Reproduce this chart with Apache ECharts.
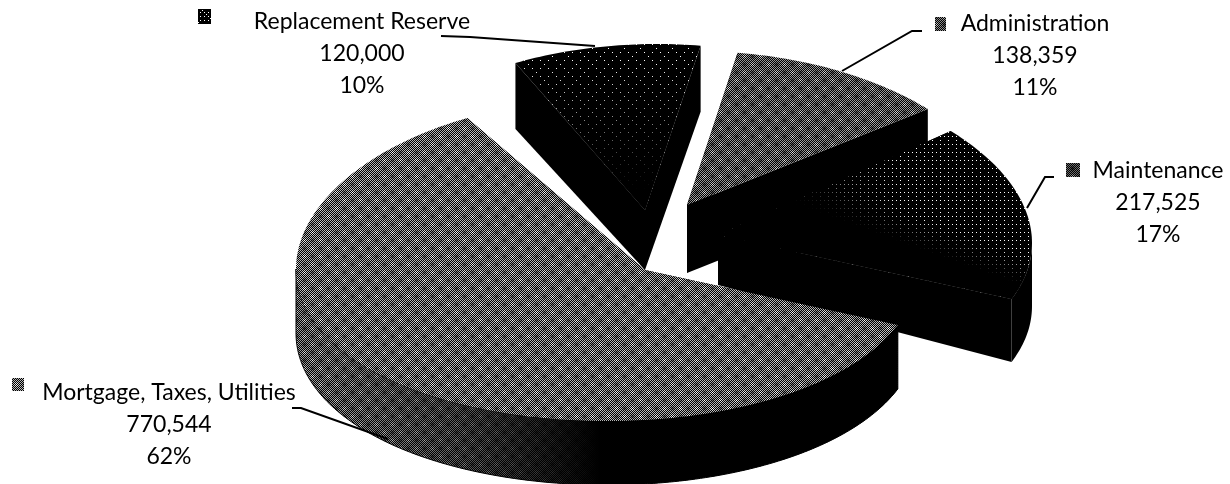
<!DOCTYPE html>
<html>
<head>
<meta charset="utf-8">
<style>html,body{margin:0;padding:0;background:#fff}#chart{width:1230px;height:484px}</style>
<script src="https://cdn.jsdelivr.net/npm/echarts@6/dist/echarts.min.js"></script>
</head>
<body>
<div id="chart"></div>
<script>
// Budget categories, clockwise from the top-left cut of the pie
const categories = ['Replacement Reserve', 'Administration', 'Maintenance', 'Mortgage, Taxes, Utilities'];
const amounts = [120000, 138359, 217525, 770544];

// Exploded-pie layout: ellipse centre, apex of the wedge and wall heights for each slice
const ellipseCentres = [[657, 214], [694, 221], [717, 243], [607, 269]];
const apexes = [[645, 210], [687, 205], [718, 235], [645, 270]];
const radiiX = [315, 315, 315, 311];
const rimDepths = [66, 68, 63, 64];
const apexDepths = [60, 68, 50, 60];
const topTones = [0.025, 0.3, 0.05, 0.36];

// Label placement: block centre, first line y, legend swatch rectangle, leader polyline
const labelCentres = [[362, 22], [1035, 24], [1158, 171], [169, 393]];
const swatches = [[198, 9, 13, 15], [935, 17, 11, 14], [1066, 163, 14, 14], [12, 378, 12, 13]];
const leaders = [
  [[441, 36], [470, 37], [595, 46]],
  [[922, 31], [912, 31], [842, 71]],
  [[1054, 177], [1045, 177], [1027, 208]],
  [[292, 408], [301, 408], [388, 439]]
];
const swatchTones = [0.08, 0.28, 0.21, 0.36];

const startAngle = 116.7;
const radiusY = 161;
const farStretch = 9;
const lineHeight = 32;
const total = amounts.reduce((a, b) => a + b, 0);

// Halftone fills. Dark tones use sparse ordered dots; mid tones use a one-pixel
// checker whose brightness swells and fades in a slow interference wave.
function bayer(x, y) {
  let v = 0;
  for (let bit = 0; bit < 3; bit++) {
    const xb = (x >> bit) & 1, yb = (y >> bit) & 1;
    v = v * 4 + (xb ^ yb) * 2 + yb;
  }
  return (v + 0.5) / 64;
}
const tiles = {};
function ditherTile(tone) {
  if (tiles[tone]) return tiles[tone];
  const size = 48;
  const c = document.createElement('canvas');
  c.width = c.height = size;
  const ctx = c.getContext('2d');
  const img = ctx.createImageData(size, size);
  for (let y = 0; y < size; y++) {
    for (let x = 0; x < size; x++) {
      const m = (Math.cos(2 * Math.PI * (x + y) / 16) + Math.cos(2 * Math.PI * (x - y) / 16)) / 2;
      let level;
      if (tone >= 0.2) {
        const stripe = (x + y) % 2 === 0;
        level = stripe ? Math.min(1, 2 * tone + 0.3 * m * m * m) : 0;
      } else {
        level = tone + 0.02 * m > bayer(x % 8, y % 8) ? 1 : 0;
      }
      const i = (y * size + x) * 4;
      img.data[i] = img.data[i + 1] = img.data[i + 2] = Math.round(255 * level);
      img.data[i + 3] = 255;
    }
  }
  ctx.putImageData(img, 0, 0);
  tiles[tone] = { image: c, repeat: 'repeat' };
  return tiles[tone];
}

function rimPoint(i, deg, drop) {
  const t = deg * Math.PI / 180, s = Math.sin(t);
  return [
    ellipseCentres[i][0] + radiiX[i] * Math.cos(t),
    ellipseCentres[i][1] - radiusY * s - farStretch * s * s + drop
  ];
}
function arc(i, from, to, drop) {
  const n = Math.max(2, Math.ceil(Math.abs(to - from)));
  const pts = [];
  for (let k = 0; k <= n; k++) pts.push(rimPoint(i, from + (to - from) * k / n, drop));
  return pts;
}
function sliceAngles(i) {
  let a = startAngle;
  for (let k = 0; k < i; k++) a -= 360 * amounts[k] / total;
  return [a, a - 360 * amounts[i] / total];
}

const black = '#000';
const { LinearGradient } = echarts.graphic;
const clearToBlack = (x, y, x2, y2) =>
  new LinearGradient(x, y, x2, y2, [{ offset: 0, color: 'rgba(0,0,0,0)' }, { offset: 1, color: '#000' }], true);
const fades = [
  [clearToBlack(0, 60, 0, 190)],
  [],
  [clearToBlack(910, 214, 900, 242), clearToBlack(900, 0, 780, 0)],
  []
];
const wallFade = new LinearGradient(320, 0, 600, 0, [
  { offset: 0, color: 'rgba(0,0,0,0)' },
  { offset: 0.5, color: 'rgba(0,0,0,0.4)' },
  { offset: 1, color: '#000' }
], true);

function poly(points, fill, stroke) {
  return { type: 'polygon', shape: { points }, style: { fill, stroke: stroke || null, lineWidth: 1 } };
}

function renderSlice(params, api) {
  const i = params.dataIndex;
  const [a0, a1] = sliceAngles(i);
  const apex = apexes[i];
  const rim = rimDepths[i];
  const apexLow = [apex[0], apex[1] + apexDepths[i]];
  const children = [];

  // Cut faces, the farther one first
  children.push(poly([apex, rimPoint(i, a0, 0), rimPoint(i, a0, rim), apexLow], black));
  children.push(poly([apex, rimPoint(i, a1, 0), rimPoint(i, a1, rim), apexLow], black));

  // Outer wall for the part of the rim that faces the viewer
  for (let k = -1; k <= 1; k++) {
    const lo = Math.max(a1, -180 + 360 * k), hi = Math.min(a0, 360 * k);
    if (hi <= lo) continue;
    const pts = arc(i, hi, lo, 0).concat(arc(i, lo, hi, rim));
    if (i === 3) {
      children.push(poly(pts, ditherTile(0.31), '#000'));
      children.push(poly(pts, wallFade));
    } else {
      children.push(poly(pts, black));
    }
  }

  // Top face with its shading overlays
  const top = [apex].concat(arc(i, a0, a1, 0));
  children.push(poly(top, ditherTile(topTones[i])));
  fades[i].forEach((fade) => children.push(poly(top, fade)));

  // Leader line, legend swatch and three-line label
  children.push({
    type: 'polyline',
    shape: { points: leaders[i] },
    style: { stroke: '#000', lineWidth: 2, fill: null }
  });
  const sw = swatches[i];
  children.push({
    type: 'rect',
    shape: { x: sw[0], y: sw[1], width: sw[2], height: sw[3] },
    style: { fill: ditherTile(swatchTones[i]) }
  });
  const lines = [
    categories[i],
    amounts[i].toLocaleString('en-US'),
    Math.round(100 * amounts[i] / total) + '%'
  ];
  lines.forEach((text, k) => {
    children.push({
      type: 'text',
      style: {
        text,
        x: labelCentres[i][0],
        y: labelCentres[i][1] + k * lineHeight,
        align: 'center',
        verticalAlign: 'middle',
        fill: '#000',
        font: '23px Lato, "Open Sans", sans-serif'
      }
    });
  });
  return { type: 'group', children };
}

const chart = echarts.init(document.getElementById('chart'), null, { renderer: 'canvas' });
chart.setOption({
  backgroundColor: '#fff',
  animation: false,
  series: [{
    type: 'custom',
    coordinateSystem: 'none',
    renderItem: renderSlice,
    data: amounts.map((value, i) => ({ name: categories[i], value })),
    silent: true
  }]
});
</script>
</body>
</html>
